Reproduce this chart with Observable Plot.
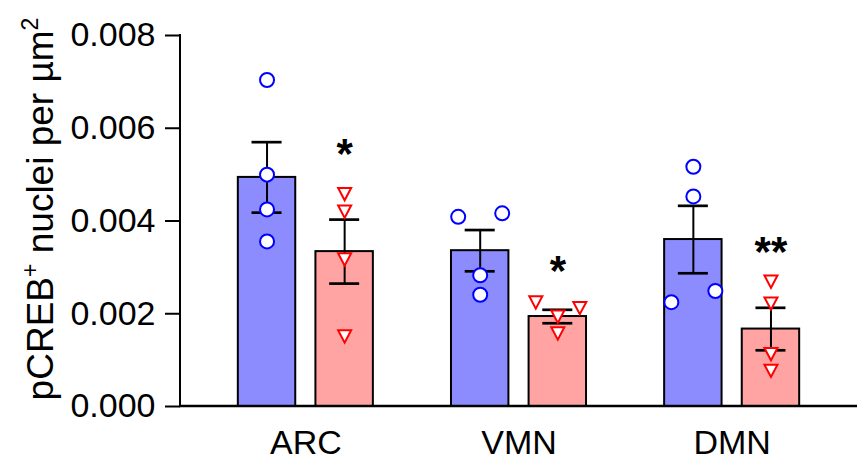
<!DOCTYPE html>
<html><head><meta charset="utf-8">
<script src="https://cdn.jsdelivr.net/npm/d3@7"></script>
<script src="https://cdn.jsdelivr.net/npm/@observablehq/plot@0.6"></script>
<style>
body{margin:0;background:#fff;}
svg{font-family:"Liberation Sans",Arial,Helvetica,sans-serif;}
</style>
</head><body><div id="chart"></div>
<script>
// ---- data ----
const regions = ["ARC", "VMN", "DMN"];
const groups = ["Control", "Treated"];
const yTicks = [0, 0.002, 0.004, 0.006, 0.008];

const barRegion = ["ARC", "ARC", "VMN", "VMN", "DMN", "DMN"];
const barGroup  = ["Control", "Treated", "Control", "Treated", "Control", "Treated"];
const barMean   = [0.00494, 0.00334, 0.00336, 0.00194, 0.00360, 0.00167];
const barSem    = [0.00076, 0.00069, 0.000445, 0.000145, 0.000727, 0.000458];

// individual animals per bar (same order as bars)
const pointValues = [
  [0.00704, 0.00500, 0.00425, 0.00356],
  [0.00458, 0.00420, 0.00317, 0.00151],
  [0.00409, 0.004165, 0.00283, 0.00241],
  [0.002244, 0.001936, 0.002123, 0.001575],
  [0.00517, 0.00453, 0.00225, 0.00249],
  [0.00269, 0.00222, 0.00113, 0.00077]
];
// horizontal scatter column of each point (-1 left, 0 centre, 1 right)
const pointColumns = [
  [0, 0, 0, 0],
  [0, 0, 0, 0],
  [-1, 1, 0, 0],
  [-1, 0, 1, 0],
  [0, 0, -1, 1],
  [0, 0, 0, 0]
];

const starRegion = ["ARC", "VMN", "DMN"];
const starGroup  = ["Treated", "Treated", "Treated"];
const starText   = ["*", "*", "**"];
const starY      = [0.0056, 0.00308, 0.0035];

// ---- tables ----
const bars = barMean.map((m, i) => ({region: barRegion[i], group: barGroup[i], mean: m, lo: m - barSem[i], hi: m + barSem[i]}));
const points = pointValues.flatMap((vals, i) => vals.map((v, j) => ({region: barRegion[i], group: barGroup[i], value: v, col: pointColumns[i][j]})));
const stars = starText.map((t, i) => ({region: starRegion[i], group: starGroup[i], text: t, y: starY[i]}));

const triangleDown = {
  draw(context, size) {
    const r = Math.sqrt(size / Math.PI);
    const w = 0.93 * r, h = 0.88 * r;
    context.moveTo(-w, -h);
    context.lineTo(w, -h);
    context.lineTo(0, h);
    context.closePath();
  }
};

const pointStyle = {
  Control: {symbol: "circle", stroke: "#0000ff"},
  Treated: {symbol: triangleDown, stroke: "#ff0000"}
};

const W = 858, H = 460, ML = 180, MR = 1, MT = 35, MB = 54;
const fxPadInner = 0.3, fxPadOuter = 0.238;
const fxStep = (W - ML - MR) / (regions.length - fxPadInner + 2 * fxPadOuter);
const axisShift = -fxPadOuter * fxStep; // move y axis from first facet to plot edge

const dotMarks = [];
for (const g of groups) {
  for (const c of [-1, 0, 1]) {
    dotMarks.push(Plot.dot(points.filter(d => d.group === g && d.col === c), {
      fx: "region", x: "group", y: "value",
      r: 7, symbol: pointStyle[g].symbol, stroke: pointStyle[g].stroke,
      fill: "white", strokeWidth: 2, dx: c * 22
    }));
  }
}

const chart = Plot.plot({
  width: W,
  height: H,
  marginLeft: ML,
  marginRight: MR,
  marginTop: MT,
  marginBottom: MB,
  style: {fontFamily: "Liberation Sans, Arial, sans-serif", background: "white"},
  fx: {domain: regions, paddingInner: fxPadInner, paddingOuter: fxPadOuter, round: false, label: null},
  x: {domain: groups, paddingInner: 0.26, paddingOuter: 0.0913, round: false, axis: null},
  y: {domain: [0, 0.008], label: null},
  color: {domain: groups, range: ["#8c8cff", "#ffa3a3"]},
  marks: [
    Plot.barY(bars, {fx: "region", x: "group", y: "mean", fill: "group", stroke: "black", strokeWidth: 2}),
    Plot.ruleX(bars, {fx: "region", x: "group", y1: "lo", y2: "hi", stroke: "black", strokeWidth: 2}),
    Plot.tickY(bars, {fx: "region", x: "group", y: "hi", stroke: "black", strokeWidth: 2.7, insetLeft: 13.7, insetRight: 13.7}),
    Plot.tickY(bars, {fx: "region", x: "group", y: "lo", stroke: "black", strokeWidth: 2.7, insetLeft: 13.7, insetRight: 13.7}),
    ...dotMarks,
    Plot.text(stars, {fx: "region", x: "group", y: "y", text: "text", fontSize: 42, fontWeight: "bold", fill: "black", dy: 8}),
    Plot.axisY({anchor: "left", ticks: yTicks, tickFormat: d3.format(".3f"), tickSize: 15, tickPadding: 10, fontSize: 34, strokeWidth: 2, label: null, color: "black", dx: axisShift}),
    Plot.axisFx({anchor: "bottom", tickSize: 0, tickPadding: 23, fontSize: 34, label: null, color: "black"})
  ]
});

const root = chart;
document.getElementById("chart").appendChild(root);
const svg = d3.select(root.tagName.toLowerCase() === "svg" ? root : root.querySelector("svg"));

// axis lines across the whole plot area (drawn from the y scale)
const yScale = chart.scale("y");
const y0 = yScale.apply(yTicks[0]);
const yTop = yScale.apply(yTicks[yTicks.length - 1]);
svg.append("line").attr("x1", ML).attr("x2", ML).attr("y1", yTop - 1).attr("y2", y0)
  .attr("stroke", "black").attr("stroke-width", 2);
svg.append("line").attr("x1", ML - 1).attr("x2", W - MR).attr("y1", y0).attr("y2", y0)
  .attr("stroke", "black").attr("stroke-width", 2.7);

// y-axis title with superscripts
const title = svg.append("text")
  .attr("transform", "translate(53,209) rotate(-90)")
  .attr("text-anchor", "middle")
  .attr("font-size", 37)
  .attr("fill", "black");
title.append("tspan").text("pCREB");
title.append("tspan").attr("font-size", 23).attr("dy", -15).text("+");
title.append("tspan").attr("dy", 15).text(" nuclei per µm");
title.append("tspan").attr("font-size", 23).attr("dy", -15).text("2");
</script>
</body></html>
